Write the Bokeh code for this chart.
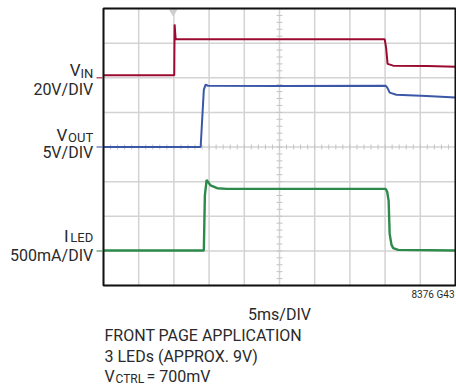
import numpy as np
from bokeh.plotting import figure
from bokeh.models import Label, Arrow, Range1d
from bokeh.embed import file_html
from bokeh.resources import INLINE

# ---- data (screen divisions: x 0..10 at 5ms/DIV, y 0..8) ----
vin_x = [0.0, 2.01, 2.02, 2.05, 7.99, 8.03, 8.07, 8.23, 9.2, 10.0]
vin_y = [6.07, 6.07, 7.54, 7.11, 7.11, 6.85, 6.40, 6.35, 6.34, 6.32]

vout_x = [0.0, 2.76, 2.85, 2.90, 2.97, 5.0, 8.02, 8.07, 8.13, 8.32, 9.18, 10.0]
vout_y = [4.0, 4.0, 5.65, 5.80, 5.77, 5.76, 5.77, 5.70, 5.57, 5.51, 5.47, 5.43]

iled_x = [0.0, 2.85, 2.88, 2.93, 3.04, 3.23, 3.5, 8.02, 8.06, 8.10, 8.13, 8.18, 8.23, 8.37, 10.0]
iled_y = [1.01, 1.01, 2.6, 3.05, 2.89, 2.81, 2.79, 2.79, 2.7, 2.45, 1.49, 1.18, 1.08, 1.03, 1.01]

x_divs = list(range(0, 11))
y_divs = list(range(0, 9))
trig_x = [1.98]
marker_levels = [6.0, 4.0, 1.0]

colors = {"vin": "#9b0b30", "vout": "#3b57a8", "iled": "#2e8a4b"}
FONT = "Roboto"
TXT = "#2a2a2a"

# ---- layout: whole canvas is the data frame; scope screen spans 0..10 x 0..8 ----
L, B, KX, KY = 103.0, 285.0, 35.2, 34.625   # pixel geometry of scope screen
W, H = 456, 385


def dx(px):
    return (px - L) / KX


def dy(py):
    return (B - py) / KY


p = figure(width=W, height=H, output_backend="svg", toolbar_location=None,
           x_range=Range1d(dx(0), dx(W)), y_range=Range1d(dy(H), dy(0)),
           min_border=0)
p.xaxis.visible = False
p.yaxis.visible = False
p.xgrid.grid_line_color = None
p.ygrid.grid_line_color = None
p.outline_line_color = None
p.background_fill_color = "white"
p.border_fill_color = "white"

# graticule
p.segment(x0=x_divs, y0=[0] * len(x_divs), x1=x_divs, y1=[8] * len(x_divs),
          line_color="#d3d3d3", line_width=1.5)
p.segment(x0=[0] * len(y_divs), y0=y_divs, x1=[10] * len(y_divs), y1=y_divs,
          line_color="#d3d3d3", line_width=1.5)

# center-line minor ticks
mt = np.round(np.arange(0.2, 10.0, 0.2), 2)
mt_y = np.round(np.arange(0.2, 8.0, 0.2), 2)
p.scatter(x=mt, y=np.full(len(mt), 4.0), marker="dash", size=5, angle=np.pi / 2,
          line_color="#c4c4c4", line_width=1)
p.scatter(x=np.full(len(mt_y), 5.0), y=mt_y, marker="dash", size=6,
          line_color="#c4c4c4", line_width=1)

# trigger marker
p.scatter(x=trig_x, y=[7.9], marker="inverted_triangle", size=7,
          fill_color="#cfcfcf", line_color="#cfcfcf")

# traces
p.line(vin_x, vin_y, line_color=colors["vin"], line_width=2)
p.line(vout_x, vout_y, line_color=colors["vout"], line_width=2)
p.line(iled_x, iled_y, line_color=colors["iled"], line_width=2.4)

# screen border
p.quad(left=[0], right=[10], bottom=[0], top=[8], fill_color=None,
       line_color="#111111", line_width=2)

# channel markers on left
for lvl, c in zip(marker_levels, [colors["vin"], colors["vout"], colors["iled"]]):
    p.add_layout(Arrow(end=None, x_start=dx(96), x_end=dx(102), y_start=lvl, y_end=lvl,
                       line_color=c, line_width=1.5, line_alpha=0.7))


def lab(text, x, y, size=16, align="right"):
    p.add_layout(Label(x=x, y=y, text=text, text_font=FONT, text_font_size=f"{size}px",
                       text_color=TXT, text_align=align, text_baseline="alphabetic"))


# left channel labels
lab("V", dx(80), dy(69.3), 17)
lab("IN", dx(92.7), dy(72.7), 13)
lab("20V/DIV", dx(92.7), dy(89.3))
lab("V", dx(66.7), dy(134), 17)
lab("OUT", dx(92.7), dy(137.3), 13)
lab("5V/DIV", dx(92.7), dy(152))
lab("I", dx(68), dy(235), 17)
lab("LED", dx(92.7), dy(237.3), 13)
lab("500mA/DIV", dx(92.7), dy(255))

# bottom texts
lab("5ms/DIV", 5.0, dy(314), 16, "center")
lab("8376 G43", dx(454), dy(294), 10, "right")
lab("FRONT PAGE APPLICATION", dx(104), dy(335), 16, "left")
lab("3 LEDs (APPROX. 9V)", dx(104), dy(355.5), 16, "left")
lab("V", dx(104), dy(375.5), 16, "left")
lab("CTRL", dx(115), dy(378), 12, "left")
lab("= 700mV", dx(146), dy(375.5), 16, "left")

open("out.html", "w").write(file_html(p, INLINE))
